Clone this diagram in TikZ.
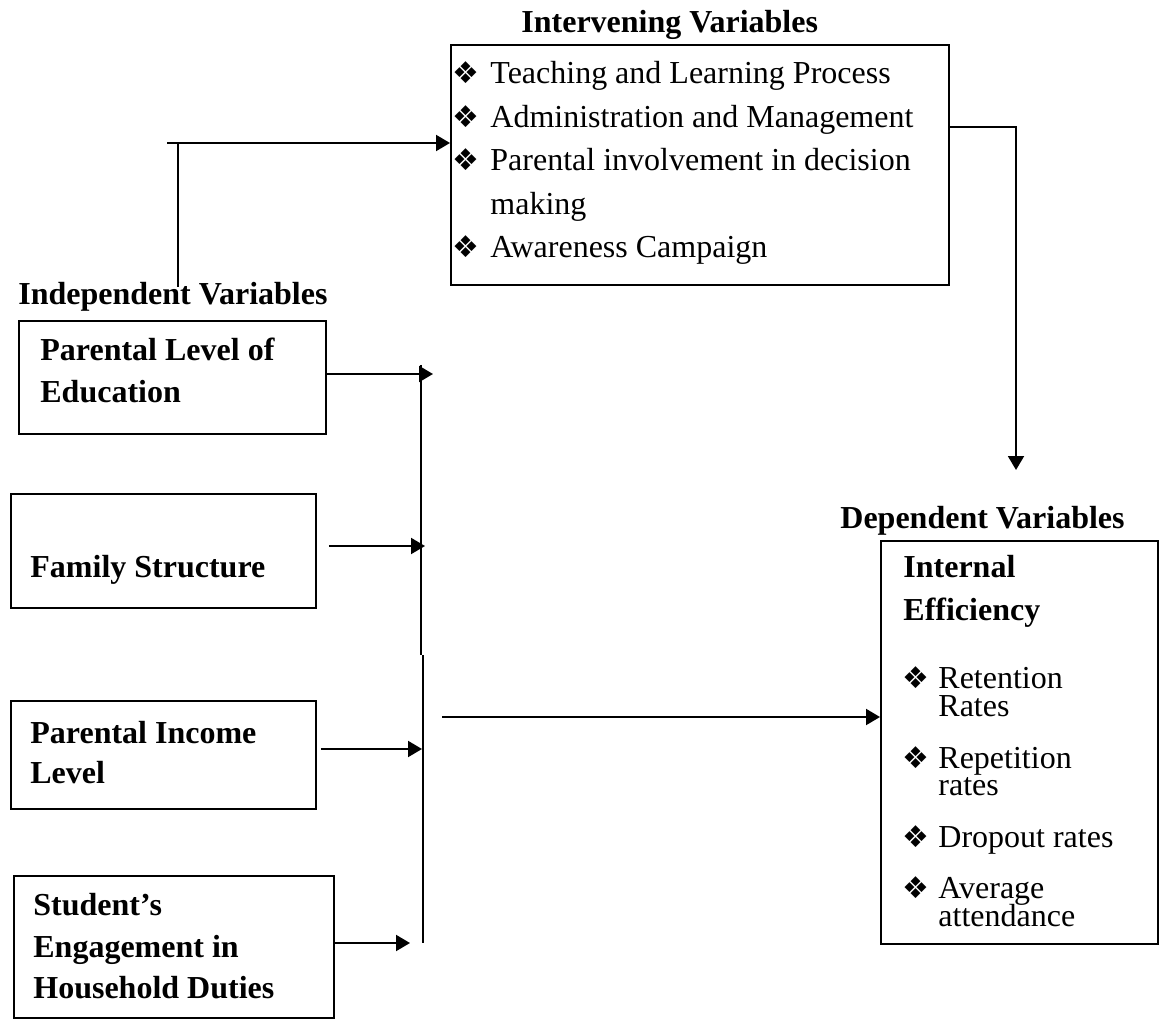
\documentclass[tikz,border=0pt]{standalone}
\usepackage{fontspec}
\setmainfont{Liberation Serif}
\newfontfamily\symfont{DejaVu Sans}
\usetikzlibrary{arrows.meta}
\begin{document}
\begin{tikzpicture}[x=0.5pt,y=-0.5pt,
  box/.style={draw, line width=0.9pt, anchor=north west, inner sep=0pt},
  txt/.style={inner sep=0pt, anchor=base west, font=\fontsize{16}{19}\selectfont},
  btxt/.style={txt, font=\fontsize{16}{19}\selectfont\bfseries},
  bul/.style={inner sep=0pt, anchor=base west, font=\symfont\fontsize{15}{17}\selectfont},
  conn/.style={line width=1pt},
  arr/.style={-{Triangle[length=7pt,width=8pt]}}]
\useasboundingbox (0,0) rectangle (1166,1021);

% boxes
\node[box, minimum width=249pt, minimum height=120pt] (inter) at (450,44) {};
\node[box, minimum width=153.5pt, minimum height=56.5pt] (b1) at (18,320) {};
\node[box, minimum width=152.5pt, minimum height=57pt] (b2) at (10,493) {};
\node[box, minimum width=152.5pt, minimum height=54pt] (b3) at (10,700) {};
\node[box, minimum width=160pt, minimum height=71pt] (b4) at (13,875) {};
\node[box, minimum width=138.5pt, minimum height=201.5pt] (dep) at (880,540) {};

% titles
\node[btxt] (tint) at (521,33) {Intervening Variables};
\node[btxt] (tind) at (18,305) {Independent Variables};
\node[btxt] (tdep) at (840,528) {Dependent Variables};

% intervening items
\node[bul] (ib1) at (452,84) {❖};
\node[txt] (i1) at (490,84) {Teaching and Learning Process};
\node[bul] (ib2) at (452,127.5) {❖};
\node[txt] (i2) at (490,127.5) {Administration and Management};
\node[bul] (ib3) at (452,171) {❖};
\node[txt] (i3) at (490,171) {Parental involvement in decision};
\node[txt] (i3b) at (490,214.5) {making};
\node[bul] (ib4) at (452,258) {❖};
\node[txt] (i4) at (490,258) {Awareness Campaign};

% independent box texts
\node[btxt] (t1a) at (40,360) {Parental Level of};
\node[btxt] (t1b) at (40,402) {Education};
\node[btxt] (t2) at (30,577) {Family Structure};
\node[btxt] (t3a) at (30,743) {Parental Income};
\node[btxt] (t3b) at (30,783) {Level};
\node[btxt] (t4a) at (33,915) {Student’s};
\node[btxt] (t4b) at (33,957) {Engagement in};
\node[btxt] (t4c) at (33,998) {Household Duties};

% dependent box texts
\node[btxt] (d1) at (903,577) {Internal};
\node[btxt] (d2) at (903,620) {Efficiency};
\node[bul] (db1) at (902,688) {❖};
\node[txt] (d3a) at (938,688) {Retention};
\node[txt] (d3b) at (938,716) {Rates};
\node[bul] (db2) at (902,768) {❖};
\node[txt] (d4a) at (938,768) {Repetition};
\node[txt] (d4b) at (938,795) {rates};
\node[bul] (db3) at (902,847) {❖};
\node[txt] (d5) at (938,847) {Dropout rates};
\node[bul] (db4) at (902,898) {❖};
\node[txt] (d6a) at (938,898) {Average};
\node[txt] (d6b) at (938,926) {attendance};

% connector coordinates
\coordinate (lt) at (167,143);
\coordinate (lv) at (178,287);
\coordinate (rc) at (1016,127);
\coordinate (rt) at (1016,470);
\coordinate (a1) at (433,374);
\coordinate (a2) at (425,546);
\coordinate (a3) at (422,749);
\coordinate (a4) at (410,943);
\coordinate (bt) at (421,365);
\coordinate (bm) at (421,655);
\coordinate (bm2) at (423,655);
\coordinate (bb) at (423,943);
\coordinate (ls) at (442,717);

% connectors
\draw[conn,arr] (lt) -- (lt -| inter.west);
\draw[conn] (lv) -- (lv |- lt);
\draw[conn,arr] (rc -| inter.east) -- (rc) -- (rt);
\draw[conn,arr] (a1 -| b1.east) -- (a1);
\draw[conn,arr] ([xshift=6pt]b2.east |- a2) -- (a2);
\draw[conn,arr] ([xshift=2pt]b3.east |- a3) -- (a3);
\draw[conn,arr] (a4 -| b4.east) -- (a4);
\draw[conn] (bt) -- (bm);
\draw[conn] (bm2) -- (bb);
\draw[conn,arr] (ls) -- (ls -| dep.west);
\end{tikzpicture}
\end{document}
